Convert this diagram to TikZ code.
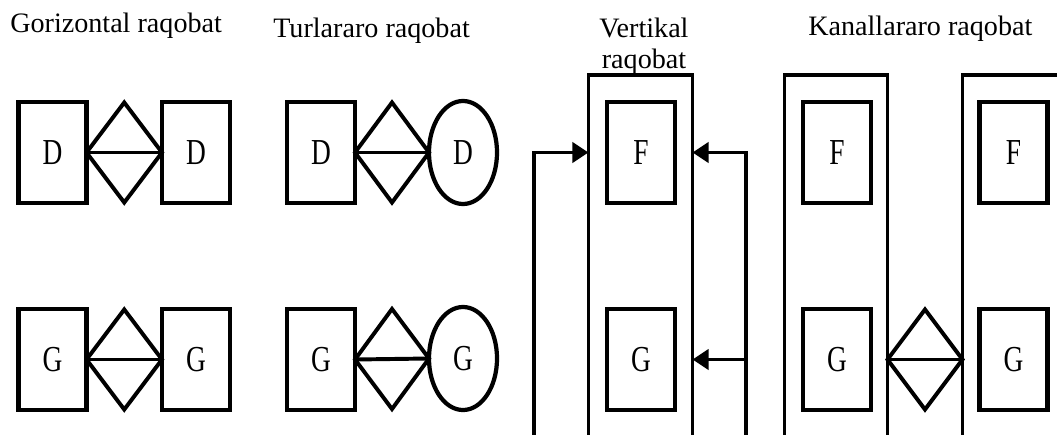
\documentclass[tikz,border=0pt]{standalone}
\usepackage{fontspec}
\setmainfont{Liberation Serif}
\usetikzlibrary{positioning,calc,shapes.geometric,arrows.meta}

\newcommand{\boxltr}[1]{\scalebox{.75}[1]{#1}}

\tikzset{
    firm/.style={draw,line width=3.2pt,rectangle,inner sep=0pt,outer sep=0pt,
        minimum width=1.7cm,minimum height=2.525cm,font=\fontsize{26}{26}\selectfont},
    oval/.style={draw,line width=3pt,ellipse,inner sep=0pt,outer sep=0pt,
        minimum width=1.7cm,minimum height=2.575cm,font=\fontsize{26}{26}\selectfont},
    frame/.style={draw,line width=2.6pt,rectangle,inner sep=0pt,outer sep=0pt,
        minimum width=2.6cm,minimum height=11.1cm},
    rhomb/.style={line width=2.8pt,line join=miter},
    feed/.style={line width=2.6pt,-{Triangle[length=0.4cm,width=0.5cm]}},
    title/.style={font=\fontsize{20}{22}\selectfont,inner sep=0pt}
}

\begin{document}
\begin{tikzpicture}[x=0.025cm,y=-0.025cm]
        \useasboundingbox (0,0) rectangle (1057,434);
        % titles
        \node[title,anchor=base west] (tgor) at (10,32) {Gorizontal raqobat};
        \node[title,anchor=base west] (ttur) at (273,37) {Turlararo raqobat};
        \node[title,anchor=base,align=center] (tver) at (644,68) {Vertikal\\raqobat};
        \node[title,anchor=base west] (tkan) at (808,35) {Kanallararo raqobat};
        % gorizontal
        \node[firm] (D1) at (52.5,152.5) {\boxltr{D}};
        \node[firm] (D2) at (196,152.5) {\boxltr{D}};
        \node[firm] (G1) at (52.5,359.5) {\boxltr{G}};
        \node[firm] (G2) at (196,359.5) {\boxltr{G}};
        % turlararo
        \node[firm] (TD) at (321,152.5) {\boxltr{D}};
        \node[oval] (TDe) at (463,152.5) {\boxltr{D}};
        \node[firm] (TG) at (321,359.5) {\boxltr{G}};
        \node[oval] (TGe) at (463,358.5) {\boxltr{G}};
        \foreach \a/\b in {D1/D2,G1/G2,TD/TDe,TG/TGe} {
            \draw[rhomb] (\a.east) -- ($(\a.east)!.5!(\b.west)+(0,-50)$) -- (\b.west)
                -- ($(\a.east)!.5!(\b.west)+(0,50)$) -- cycle;
            \draw[rhomb] (\a.east) -- (\b.west);
        }
        % vertikal
        \node[frame] (vfr) at (640.5,297) {};
        \node[firm] (vF) at (641,152.5) {\boxltr{F}};
        \node[firm] (vG) at (641,359.5) {\boxltr{G}};
        \coordinate (inL) at (534,450);
        \coordinate (inR) at (746,450);
        \draw[feed] (inL) |- (vF -| vfr.west);
        \draw[feed] (inR) |- (vF -| vfr.east);
        \draw[feed] (inR |- vG) -- (vG -| vfr.east);
        % kanallararo
        \node[frame,minimum width=2.575cm] (kfr1) at (836,297) {};
        \node[frame,minimum width=2.575cm] (kfr2) at (1014,297) {};
        \node[firm] (kF1) at (837,152.5) {\boxltr{F}};
        \node[firm] (kG1) at (837,359.5) {\boxltr{G}};
        \node[firm] (kF2) at (1013.5,152.5) {\boxltr{F}};
        \node[firm] (kG2) at (1013.5,359.5) {\boxltr{G}};
        \coordinate (kl) at (kfr1.east |- kG1);
        \coordinate (kr) at (kfr2.west |- kG2);
        \draw[rhomb] (kl) -- ($(kl)!.5!(kr)+(0,-50)$) -- (kr) -- ($(kl)!.5!(kr)+(0,50)$) -- cycle;
        \draw[rhomb] (kl) -- (kr);
\end{tikzpicture}
\end{document}
